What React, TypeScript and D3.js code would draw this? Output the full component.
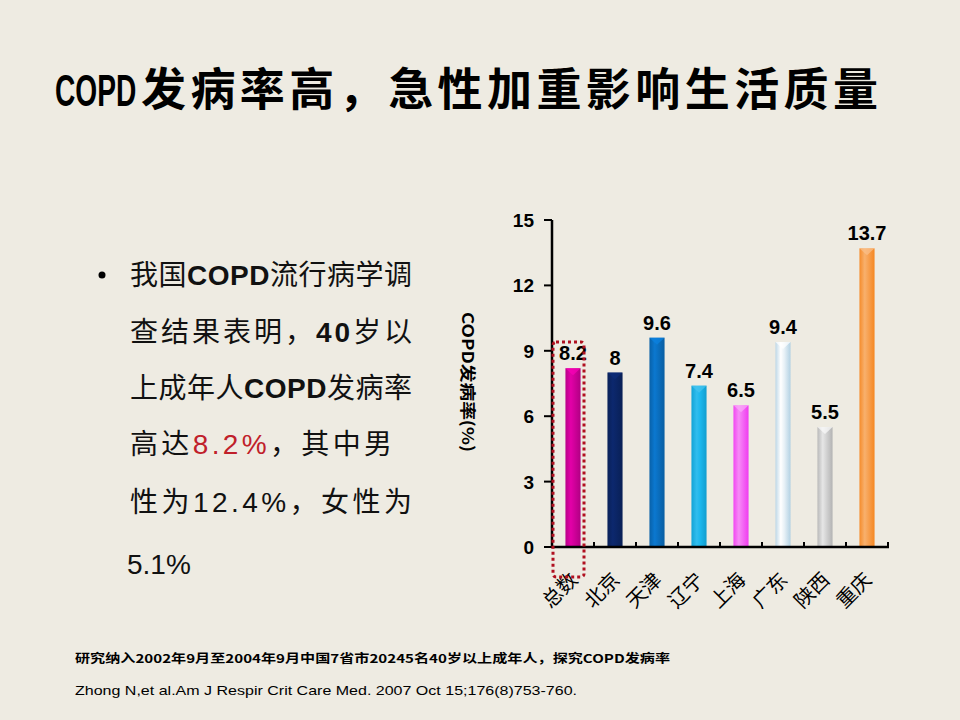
import React from "react";
import * as d3 from "d3";

const categories = ["总数", "北京", "天津", "辽宁", "上海", "广东", "陕西", "重庆"];
const values = [8.2, 8, 9.6, 7.4, 6.5, 9.4, 5.5, 13.7];
const valueLabels = ["8.2", "8", "9.6", "7.4", "6.5", "9.4", "5.5", "13.7"];
const barColors = ["#D0009A", "#0B2565", "#0A6EBE", "#1AB6EC", "#F46CF4", "#E6F0F6", "#D2D2D2", "#F7A050"];
const yTicks = [0, 3, 6, 9, 12, 15];

const titleLatin = "COPD";
const titleCjk = "发病率高，急性加重影响生活质量";
const yTitle = "COPD发病率(%)";
const footnote1 = "研究纳入2002年9月至2004年9月中国7省市20245名40岁以上成年人，探究COPD发病率";
const footnote2 = "Zhong N,et al.Am J Respir Crit Care Med. 2007 Oct 15;176(8)753-760.";

const W = 960;
const H = 720;

export default function App() {
  const x = d3.scaleBand<string>().domain(categories).range([552, 888]).paddingInner(0.64).paddingOuter(0.32);
  const y = d3.scaleLinear().domain([0, 15]).range([547, 220]);
  const band = x.step();
  const cjk = '"Noto Sans CJK SC", sans-serif';
  const arial = '"Liberation Sans", Arial, sans-serif';
  const sx = 0.64;

  const shade = (c: string, k: number) => {
    const h = d3.hsl(c);
    return k > 0 ? h.brighter(k).formatHex() : h.darker(-k).formatHex();
  };

  return (
    <svg width={W} height={H} style={{ position: "absolute", left: 0, top: 0, display: "block" }}>
      <defs>
        {barColors.map((c, i) => (
          <linearGradient key={i} id={`g${i}`} x1="0" x2="1" y1="0" y2="0">
            <stop offset="0" stopColor={shade(c, -0.35)} />
            <stop offset="0.35" stopColor={shade(c, 0.25)} />
            <stop offset="0.6" stopColor={c} />
            <stop offset="1" stopColor={shade(c, -0.45)} />
          </linearGradient>
        ))}
      </defs>
      <rect x={0} y={0} width={W} height={H} fill="#EEEBE2" />

      {/* Title */}
      <text
        transform={`scale(${sx},1)`}
        x={55 / sx}
        y={106}
        fontFamily={arial}
        fontWeight={700}
        fontSize={44}
        fill="#000"
      >
        {titleLatin}
      </text>
      <text x={141} y={106} fontFamily={cjk} fontWeight={700} fontSize={45} fill="#000" textLength={737} lengthAdjust="spacing">
        {titleCjk}
      </text>

      {/* Bullet text */}
      <circle cx={102} cy={275} r={3.5} fill="#000" />
      <g fontFamily={cjk} fontSize={28} fill="#111">
        <text x={130} y={285} textLength={282} lengthAdjust="spacing">我国<tspan fontFamily={arial} fontWeight={700}>COPD</tspan>流行病学调</text>
        <text x={130} y={342} textLength={282} lengthAdjust="spacing">查结果表明，<tspan fontFamily={arial} fontWeight={700}>40</tspan>岁以</text>
        <text x={130} y={398} textLength={282} lengthAdjust="spacing">上成年人<tspan fontFamily={arial} fontWeight={700}>COPD</tspan>发病率</text>
        <text x={130} y={454} textLength={262} lengthAdjust="spacing">高达<tspan fill="#C0202A" fontFamily={arial}>8.2%</tspan>，其中男</text>
        <text x={130} y={512} textLength={282} lengthAdjust="spacing">性为<tspan fontFamily={arial}>12.4%</tspan>，女性为</text>
        <text x={127} y={574} fontFamily={arial}>5.1%</text>
      </g>

      {/* Bars */}
      {categories.map((c, i) => {
        const bx = x(c)!;
        const bw = x.bandwidth();
        const top = y(values[i]);
        return (
          <g key={c}>
            <rect x={bx} y={top} width={bw} height={y(0) - top} fill={`url(#g${i})`} />
            <path
              d={`M${bx},${top} L${bx + bw},${top} L${bx + bw / 2},${top + 7} Z`}
              fill={shade(barColors[i], 0.5)}
              opacity={0.7}
            />
          </g>
        );
      })}

      {/* Value labels */}
      {categories.map((c, i) => (
        <text
          key={c}
          x={x(c)! + x.bandwidth() / 2}
          y={y(values[i]) - 8}
          textAnchor="middle"
          fontFamily={arial}
          fontWeight={700}
          fontSize={20}
          fill="#000"
        >
          {valueLabels[i]}
        </text>
      ))}

      {/* Axes */}
      <line x1={552} x2={552} y1={y(15)} y2={y(0)} stroke="#000" strokeWidth={2.5} />
      <line x1={551} x2={889} y1={y(0)} y2={y(0)} stroke="#000" strokeWidth={2.5} />
      {yTicks.map((t) => (
        <g key={t}>
          <line x1={544} x2={552} y1={y(t)} y2={y(t)} stroke="#000" strokeWidth={2} />
          <text x={534} y={y(t) + 7} textAnchor="end" fontFamily={arial} fontWeight={700} fontSize={19} fill="#000">
            {t}
          </text>
        </g>
      ))}
      {categories.map((c, i) => (
        <line key={c} x1={552 + band * (i + 1)} x2={552 + band * (i + 1)} y1={y(0) - 5} y2={y(0)} stroke="#000" strokeWidth={2} />
      ))}

      {/* Y title */}
      <text
        transform={`translate(462, ${382}) rotate(90)`}
        textAnchor="middle"
        fontFamily={cjk}
        fontWeight={700}
        fontSize={16}
        fill="#000"
        textLength={140}
        lengthAdjust="spacingAndGlyphs"
      >
        {yTitle}
      </text>

      {/* X labels */}
      {categories.map((c) => {
        const cx = x(c)! + x.bandwidth() / 2;
        return (
          <text
            key={c}
            transform={`translate(${cx + 6}, ${581}) rotate(-45)`}
            textAnchor="end"
            fontFamily={cjk}
            fontSize={20}
            fill="#000"
          >
            {c}
          </text>
        );
      })}

      {/* Dotted highlight */}
      <rect
        x={553}
        y={342}
        width={31}
        height={235}
        rx={3}
        fill="none"
        stroke="#B01020"
        strokeWidth={3}
        strokeDasharray="3 3"
      />

      {/* Footnotes */}
      <text x={75} y={663} fontFamily={cjk} fontWeight={700} fontSize={12} fill="#000" textLength={595} lengthAdjust="spacingAndGlyphs">
        {footnote1}
      </text>
      <text x={75} y={695} fontFamily={arial} fontSize={13} fill="#000" textLength={502} lengthAdjust="spacingAndGlyphs">
        {footnote2}
      </text>
    </svg>
  );
}
